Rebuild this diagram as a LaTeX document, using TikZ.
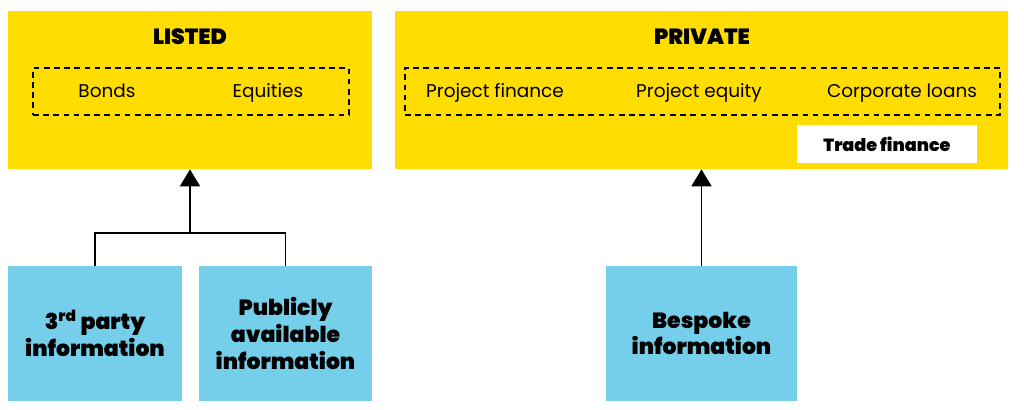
\documentclass[tikz,border=0pt]{standalone}
\usepackage{fontspec}
\setmainfont{Poppins}[BoldFont={Poppins Black}]
\usepackage{tikz}
\usetikzlibrary{arrows.meta,positioning,calc}
\definecolor{ylw}{HTML}{FFDD00}
\definecolor{sky}{HTML}{75CFEA}
\begin{document}
\begin{tikzpicture}[
    panel/.style={fill=ylw, draw=none, inner sep=0pt},
    group/.style={draw=black, dashed, dash pattern=on 3.2pt off 2.6pt, line width=1.1pt, inner sep=0pt},
    source/.style={fill=sky, draw=none, minimum height=2.7cm, align=center,
      font=\fontsize{12.5}{15.3}\selectfont\bfseries},
    title/.style={font=\fontsize{12.5}{15}\selectfont\bfseries},
    item/.style={font=\fontsize{10.5}{13}\selectfont, text height=0.75em, text depth=0.25em},
    feed/.style={line width=1.1pt, -{Triangle[width=0.4cm,length=0.34cm]}}
  ]
  \useasboundingbox (0,0) rectangle (20.48,-8.2);

  % market panels
  \node[panel, minimum width=7.28cm, minimum height=3.16cm] (listed) at (3.8,-1.8) {};
  \node[panel, minimum width=12.26cm, minimum height=3.16cm] (private) at (14.03,-1.8) {};
  \node[title] (listedT) at (3.8,-0.74) {LISTED};
  \node[title] (privateT) at (14.04,-0.74) {PRIVATE};

  % asset classes
  \node[group, minimum width=6.32cm, minimum height=0.94cm] (listedG) at (3.82,-1.83) {};
  \node[item] (bonds) at (2.14,-1.86) {Bonds};
  \node[item] (equities) at (5.36,-1.86) {Equities};
  \node[group, minimum width=11.9cm, minimum height=0.94cm] (privateG) at (14.05,-1.83) {};
  \node[item] (pfin) at (9.9,-1.86) {Project finance};
  \node[item] (peq) at (13.98,-1.86) {Project equity};
  \node[item] (cloans) at (18.04,-1.86) {Corporate loans};
  \node[fill=white, minimum width=3.6cm, minimum height=0.76cm,
    font=\fontsize{10}{12}\selectfont\bfseries] (trade) at (17.74,-2.88) {Trade finance};

  % information sources
  \node[source, minimum width=3.48cm] (third) at (1.9,-6.67) {3\textsuperscript{rd} party\\information};
  \node[source, minimum width=3.46cm] (public) at (5.71,-6.67) {Publicly\\available\\information};
  \node[source, minimum width=3.82cm] (bespoke) at (14.03,-6.67) {Bespoke\\information};

  \coordinate (join) at (listed.south |- 0,-4.66);
  \draw[line width=1.1pt] (third.north) |- (join) -| (public.north);
  \draw[feed] (join) -- (listed.south);
  \draw[feed] (bespoke.north) -- (bespoke.north |- private.south);
\end{tikzpicture}
\end{document}
